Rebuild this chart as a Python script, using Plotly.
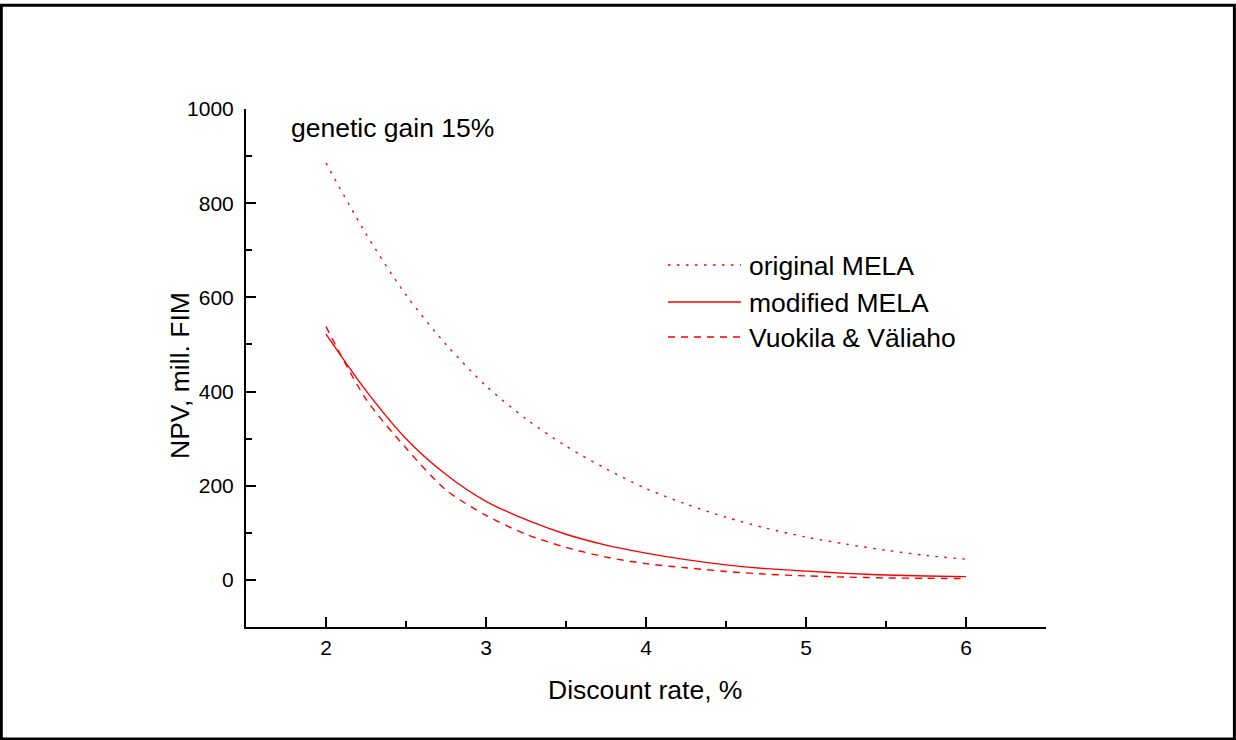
import plotly.graph_objects as go

# Discount rate (%) and net present value (mill. FIM) for the three models
discount_rate = [2.0, 2.25, 2.5, 2.75, 3.0, 3.25, 3.5, 3.75, 4.0,
                 4.25, 4.5, 4.75, 5.0, 5.25, 5.5, 5.75, 6.0]
npv_original_mela = [885, 735, 605, 500, 412, 342, 284, 236, 194,
                     161, 133, 110, 91, 76, 63, 52, 44]
npv_modified_mela = [522, 402, 300, 224, 167, 128, 97, 74, 57,
                     43, 32, 24, 18.7, 13.8, 10.5, 8.3, 7]
npv_vuokila_valiaho = [538, 384, 280, 191, 137, 97, 69, 48.5, 34.5,
                       25.8, 18, 12.2, 8.5, 6, 4.2, 3.4, 3]

series_names = ["original MELA", "modified MELA", "Vuokila & Väliaho"]
annotation_text = "genetic gain 15%"
x_title = "Discount rate, %"
y_title = "NPV, mill. FIM"

RED = "#ff0000"
FONT = "Arial, Liberation Sans, sans-serif"
TEXT_SIZE = 26.5
DOT = "2.5px,6.5px"
DASH = "7px,6px"
styles = [DOT, "solid", DASH]

W, H = 1236, 740
L, R, T, B = 246, 190, 109, 113
PW, PH = W - L - R, H - T - B


def px_x(p):
    return (p - L) / PW


def px_y(p):
    return (H - B - p) / PH


fig = go.Figure()
for name, ys, dash in zip(series_names,
                          [npv_original_mela, npv_modified_mela, npv_vuokila_valiaho],
                          styles):
    fig.add_trace(go.Scatter(
        x=discount_rate, y=ys, mode="lines", name=name,
        line=dict(color=RED, width=1.4, dash=dash, shape="spline", smoothing=0.8),
        showlegend=False,
    ))

axis_common = dict(
    showline=True, linecolor="black", linewidth=2, mirror=False,
    showgrid=False, zeroline=False,
    ticks="inside", ticklen=10, tickwidth=2, tickcolor="black",
    tickfont=dict(family=FONT, size=21, color="black"),
)

fig.update_xaxes(
    range=[1.5, 6.5], tickmode="array", tickvals=[2, 3, 4, 5, 6],
    minor=dict(tickmode="array", tickvals=[1.5, 2.5, 3.5, 4.5, 5.5, 6.5],
               ticks="inside", ticklen=6, tickwidth=2, tickcolor="black"),
    ticklabelstandoff=1,
    **axis_common,
)
fig.update_yaxes(
    range=[-100, 1000], tickmode="array", tickvals=[0, 200, 400, 600, 800, 1000],
    minor=dict(tickmode="array", tickvals=[100, 300, 500, 700, 900],
               ticks="inside", ticklen=6, tickwidth=2, tickcolor="black"),
    ticklabelstandoff=6,
    **axis_common,
)

title_font = dict(family=FONT, size=TEXT_SIZE, color="black")
shapes = []
annotations = [
    dict(text=x_title, xref="paper", yref="paper", x=px_x(645), y=px_y(690),
         xanchor="center", yanchor="middle", showarrow=False, font=title_font),
    dict(text=y_title, xref="paper", yref="paper", x=px_x(180), y=px_y(376),
         xanchor="center", yanchor="middle", textangle=-90, showarrow=False,
         font=title_font),
    dict(text=annotation_text, xref="paper", yref="paper", x=px_x(289), y=px_y(128),
         xanchor="left", yanchor="middle", showarrow=False, font=title_font),
]

# Legend drawn as sample strokes with labels beside them
legend_rows = [265, 302, 337]
for name, dash, ry in zip(series_names, [DOT, "solid", DASH], legend_rows):
    shapes.append(dict(type="line", xref="paper", yref="paper",
                       x0=px_x(668), x1=px_x(741), y0=px_y(ry), y1=px_y(ry),
                       line=dict(color=RED, width=1.4, dash=dash)))
    annotations.append(dict(text=name, xref="paper", yref="paper",
                            x=px_x(747), y=px_y(ry + 1), xanchor="left", yanchor="middle",
                            showarrow=False, font=title_font))

# Outer frame around the whole figure
shapes.append(dict(type="rect", xref="paper", yref="paper",
                   x0=px_x(1.3), x1=px_x(1234.4), y0=px_y(739), y1=px_y(5.3),
                   line=dict(color="black", width=3), layer="above"))

fig.update_layout(
    width=W, height=H,
    margin=dict(l=L, r=R, t=T, b=B, pad=0),
    paper_bgcolor="white", plot_bgcolor="white",
    shapes=shapes, annotations=annotations,
    showlegend=False,
)

fig.write_html("out.html")
